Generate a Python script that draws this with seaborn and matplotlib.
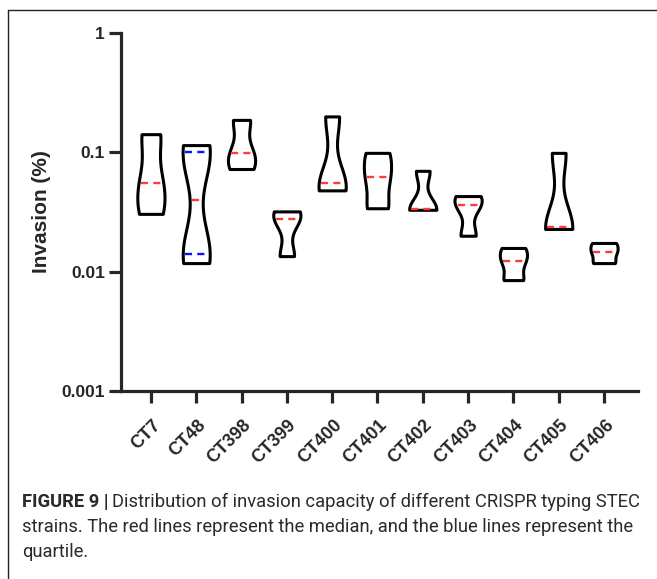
import numpy as np
import pandas as pd
import matplotlib.pyplot as plt
import seaborn as sns
from matplotlib.lines import Line2D
from matplotlib.transforms import ScaledTranslation

# Invasion (%) per strain (log axis)
strains = ["CT7", "CT48", "CT398", "CT399", "CT400", "CT401",
           "CT402", "CT403", "CT404", "CT405", "CT406"]
ct7 = [0.142, 0.055, 0.0305]
ct48 = [0.115, 0.088, 0.016, 0.0118]
ct398 = [0.187, 0.099, 0.0725]
ct399 = [0.032, 0.0276, 0.0135]
ct400 = [0.20, 0.055, 0.048]
ct401 = [0.099, 0.062, 0.034]
ct402 = [0.070, 0.0335, 0.033]
ct403 = [0.043, 0.036, 0.020]
ct404 = [0.0158, 0.0123, 0.0085]
ct405 = [0.099, 0.0237, 0.0228]
ct406 = [0.0174, 0.0146, 0.0118]

medians = [0.055, 0.040, 0.099, 0.0276, 0.055, 0.062,
           0.0335, 0.036, 0.0123, 0.0237, 0.0146]
quartile_strain = "CT48"
quartiles = [0.0140, 0.1006]

yticks = [0.001, 0.01, 0.1, 1]
ytick_labels = ["0.001", "0.01", "0.1", "1"]

groups = [ct7, ct48, ct398, ct399, ct400, ct401, ct402, ct403, ct404, ct405, ct406]
df = pd.DataFrame({
    "strain": np.repeat(strains, [len(g) for g in groups]),
    "invasion": np.concatenate(groups),
})

sns.set_style("white")
plt.rcParams["font.family"] = ["Liberation Sans", "DejaVu Sans"]

fig = plt.figure(figsize=(6.57, 5.79), dpi=100)
ax = fig.add_axes([121 / 657, 1 - 391 / 579, 517 / 657, 358 / 579])

sns.violinplot(data=df, x="strain", y="invasion", order=strains, ax=ax,
               log_scale=True, cut=0, inner=None, density_norm="width",
               width=0.6, bw_adjust=0.65, color="white", saturation=1,
               linecolor="black", linewidth=2.2)

# median / quartile lines, spanning the violin at that height
def half_width(i, yval):
    verts = ax.collections[i].get_paths()[0].vertices
    right = verts[verts[:, 0] > i]
    order = np.argsort(right[:, 1])
    return np.interp(np.log10(yval), np.log10(right[order, 1]), right[order, 0]) - i

for i, m in enumerate(medians):
    hw = half_width(i, m) - 0.05
    ax.plot([i - hw, i + hw], [m, m], color="#ff3c3c", lw=1.7,
            linestyle=(0, (3, 2.2)))

qi = strains.index(quartile_strain)
for q in quartiles:
    hw = half_width(qi, q) - 0.05
    ax.plot([qi - hw, qi + hw], [q, q], color="#1010ff", lw=1.7,
            linestyle=(0, (3, 2.2)))

ax.set_yscale("log")
ax.set_ylim(0.001, 1)
ax.set_xlim(-0.66, 10.75)
ax.set_yticks(yticks)
ax.set_yticklabels(ytick_labels)
ax.yaxis.set_minor_locator(plt.NullLocator())

for s in ["top", "right"]:
    ax.spines[s].set_visible(False)
for s in ["left", "bottom"]:
    ax.spines[s].set_linewidth(2.3)
ax.tick_params(axis="both", length=8.6, width=2.3, direction="out",
               left=True, bottom=True, labelsize=12.5, pad=3)
for lab in ax.get_yticklabels():
    lab.set_fontweight("bold")

ax.set_xlabel("")
ax.set_xticks(range(len(strains)))
ax.set_xticklabels(strains, rotation=45, ha="right", va="center",
                   rotation_mode="anchor", fontweight="bold", fontsize=13)
ax.tick_params(axis="x", pad=14)
for lab in ax.get_xticklabels():
    lab.set_transform(lab.get_transform() + ScaledTranslation(0.07, 0, fig.dpi_scale_trans))

ax.set_ylabel("Invasion (%)", fontsize=15, fontweight="bold")
ax.yaxis.set_label_coords((51 - 121) / 517, 0.5)

# outer frame of the figure panel
fx, fy = 8 / 657, 1 - 10 / 579
fig.add_artist(Line2D([fx, fx], [0, fy], transform=fig.transFigure, color="#222222", lw=1))
fig.add_artist(Line2D([fx, 1], [fy, fy], transform=fig.transFigure, color="#222222", lw=1))

# caption
cap_font = ["Roboto", "DejaVu Sans"]
cap_color = "#2a2a2a"
cap_size = 13.2
cx = 22 / 657
t0 = fig.text(cx, 1 - 502 / 579, "FIGURE 9 |", fontsize=cap_size, fontweight="bold",
              family=cap_font, color=cap_color, va="center")
fig.canvas.draw()
bb = t0.get_window_extent()
fig.text(bb.x1 / fig.bbox.width + 0.005, 1 - 502 / 579,
         "Distribution of invasion capacity of different CRISPR typing STEC",
         fontsize=cap_size, family=cap_font, color=cap_color, va="center")
fig.text(cx, 1 - 527 / 579,
         "strains. The red lines represent the median, and the blue lines represent the",
         fontsize=cap_size, family=cap_font, color=cap_color, va="center")
fig.text(cx, 1 - 552 / 579, "quartile.", fontsize=cap_size, family=cap_font,
         color=cap_color, va="center")

fig.savefig("out.png", dpi=100)
